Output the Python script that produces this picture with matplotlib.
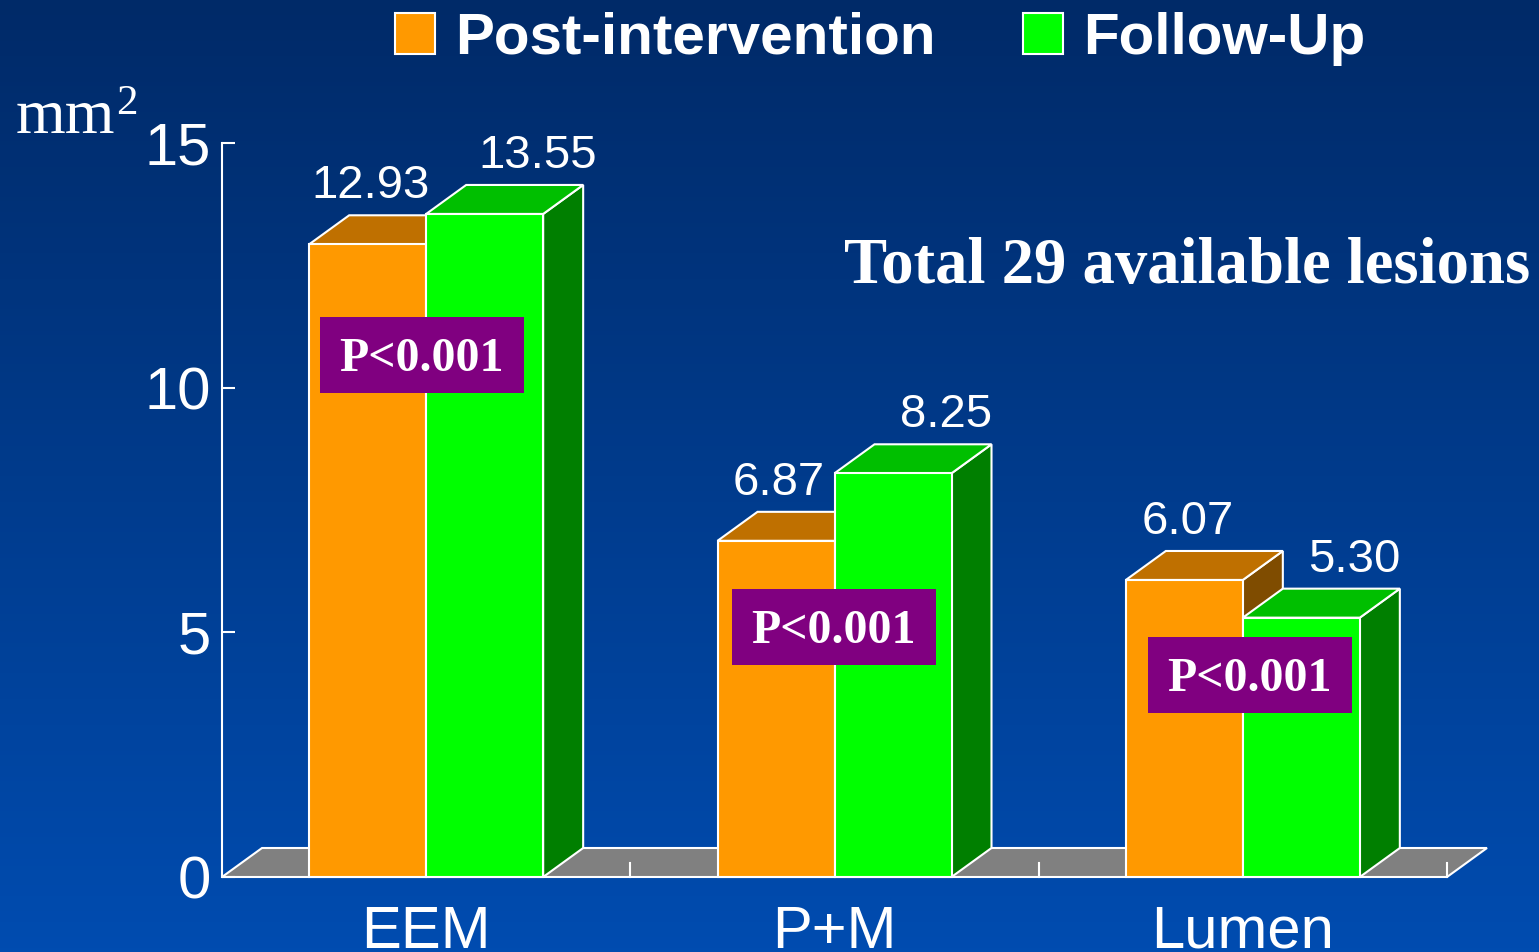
import numpy as np
import matplotlib
matplotlib.use("Agg")
import matplotlib.pyplot as plt
from matplotlib.patches import Polygon, Rectangle, Patch
from matplotlib.colors import LinearSegmentedColormap

# ---------------- data ----------------
categories = ["EEM", "P+M", "Lumen"]
series_names = ["Post-intervention", "Follow-Up"]
post_values = [12.93, 6.87, 6.07]
follow_values = [13.55, 8.25, 5.30]
p_labels = ["P<0.001", "P<0.001", "P<0.001"]
y_ticks = [0, 5, 10, 15]
unit_base = "mm"
unit_power = "2"
note_text = "Total 29 available lesions"

# ---------------- style ----------------
W, H, DPI = 1539, 952, 100
SANS = ["Liberation Sans", "DejaVu Sans"]
SERIF = ["Liberation Serif", "DejaVu Serif"]
WHITE = "white"
front_cols = ["#FF9900", "#00FF00"]
top_cols = ["#BF7000", "#00BF00"]
side_cols = ["#7F4C00", "#007F00"]
floor_col = "#808080"
pbox_col = "#800080"
EDGE_LW = 1.5

fig = plt.figure(figsize=(W / DPI, H / DPI), dpi=DPI)

# gradient background
bg = fig.add_axes([0, 0, 1, 1], zorder=0)
cmap = LinearSegmentedColormap.from_list("bg", ["#002a68", "#004cb0"])
grad = np.linspace(0, 1, 256).reshape(-1, 1)
bg.imshow(grad, aspect="auto", cmap=cmap, extent=[0, 1, 0, 1], origin="upper")
bg.set_axis_off()

# main axes
x0_px, x1_px, y0_px, y1_px = 222, 1447, 877, 143
ax = fig.add_axes([x0_px / W, (H - y0_px) / H, (x1_px - x0_px) / W, (y0_px - y1_px) / H], zorder=1)
ax.set_facecolor("none")
ax.set_xlim(0, len(categories))
ax.set_ylim(0, 15)

px_x = (x1_px - x0_px) / len(categories)   # pixels per category
px_y = (y0_px - y1_px) / 15.0              # pixels per unit
dx = 40 / px_x
dy = 29 / px_y
bw = 117 / px_x

# floor
n = len(categories)
floor = Polygon([(0, 0), (n, 0), (n + dx, dy), (dx, dy)], closed=True,
                facecolor=floor_col, edgecolor=WHITE, lw=EDGE_LW, zorder=1,
                clip_on=False, joinstyle="miter")
ax.add_patch(floor)
for k in range(1, n + 1):
    ax.plot([k, k], [0, 14 / px_y], color=WHITE, lw=EDGE_LW, zorder=1.5, clip_on=False)


def draw_box(x_left, value, si, z):
    xr = x_left + bw
    side = Polygon([(xr, 0), (xr + dx, dy), (xr + dx, value + dy), (xr, value)],
                   closed=True, facecolor=side_cols[si], edgecolor=WHITE, lw=EDGE_LW,
                   zorder=z, clip_on=False, joinstyle="miter")
    top = Polygon([(x_left, value), (xr, value), (xr + dx, value + dy), (x_left + dx, value + dy)],
                  closed=True, facecolor=top_cols[si], edgecolor=WHITE, lw=EDGE_LW,
                  zorder=z, clip_on=False, joinstyle="miter")
    ax.add_patch(side)
    ax.add_patch(top)


centers = np.arange(n) + 0.5
containers = []
for si, vals in enumerate([post_values, follow_values]):
    lefts = centers - bw + si * bw
    for i, (xl, v) in enumerate(zip(lefts, vals)):
        draw_box(xl, v, si, 2 + i * 2 + si)
    bc = ax.bar(lefts, vals, width=bw, align="edge", color=front_cols[si], edgecolor=WHITE,
                linewidth=EDGE_LW, label=series_names[si], clip_on=False)
    for i, rect in enumerate(bc.patches):
        rect.set_zorder(2 + i * 2 + si + 0.5)

# value labels
for i in range(n):
    xo = centers[i] - bw / 2 + 3 / px_x
    ax.text(xo, post_values[i] + dy + 17 / px_y, f"{post_values[i]:.2f}",
            ha="center", va="baseline", color=WHITE, fontsize=34, family=SANS, zorder=20)
    xg = centers[i] + bw / 2 + 53 / px_x
    ax.text(xg, follow_values[i] + dy + 17 / px_y, f"{follow_values[i]:.2f}",
            ha="center", va="baseline", color=WHITE, fontsize=34, family=SANS, zorder=20)

# P-value boxes (annotation placement)
p_box_x = [0.489, 1.498, 2.517]
p_box_y = [10.67, 5.11, 4.13]
box_w = 204 / px_x
box_h = 76 / px_y
for bx, by, lab in zip(p_box_x, p_box_y, p_labels):
    ax.add_patch(Rectangle((bx - box_w / 2, by - box_h / 2), box_w, box_h,
                           facecolor=pbox_col, edgecolor="none", zorder=30, clip_on=False))
    ax.text(bx, by - 16.5 / px_y, lab, ha="center", va="baseline", color=WHITE,
            fontsize=34.5, fontweight="bold", family=SERIF, zorder=31)

# axes styling
for s in ["top", "right", "bottom"]:
    ax.spines[s].set_visible(False)
ax.spines["left"].set_color(WHITE)
ax.spines["left"].set_linewidth(EDGE_LW)
ax.spines["left"].set_zorder(1.2)
ax.set_yticks(y_ticks)
ax.set_yticklabels([str(t) for t in y_ticks], fontsize=43, family=SANS, color=WHITE)
ax.tick_params(axis="y", direction="in", length=9, width=EDGE_LW, colors=WHITE, pad=8)
ax.set_xticks(centers)
ax.set_xticklabels(categories, fontsize=43, family=SANS, color=WHITE)
ax.tick_params(axis="x", length=0, pad=20)

# unit label
fig.text(16 / W, 1 - 133 / H, unit_base, ha="left", va="baseline", color=WHITE,
         fontsize=46, family=SERIF)
fig.text(116 / W, 1 - 114 / H, unit_power, ha="left", va="baseline", color=WHITE,
         fontsize=31, family=SERIF)

# note
fig.text(1530 / W, 1 - 283 / H, note_text, ha="right", va="baseline", color=WHITE,
         fontsize=46.5, fontweight="bold", family=SERIF)

# legend
handles = [Patch(facecolor=front_cols[i], edgecolor=WHITE, linewidth=EDGE_LW) for i in range(2)]
leg = fig.legend(handles, series_names, loc="center", bbox_to_anchor=(880 / W, 1 - 39 / H),
                 ncol=2, frameon=False, borderpad=0, borderaxespad=0,
                 handlelength=0.69, handleheight=0.69, handletextpad=0.34,
                 columnspacing=1.5, prop={"family": SANS, "weight": "bold", "size": 42})
for t in leg.get_texts():
    t.set_color(WHITE)

fig.savefig("out.png", dpi=DPI)
